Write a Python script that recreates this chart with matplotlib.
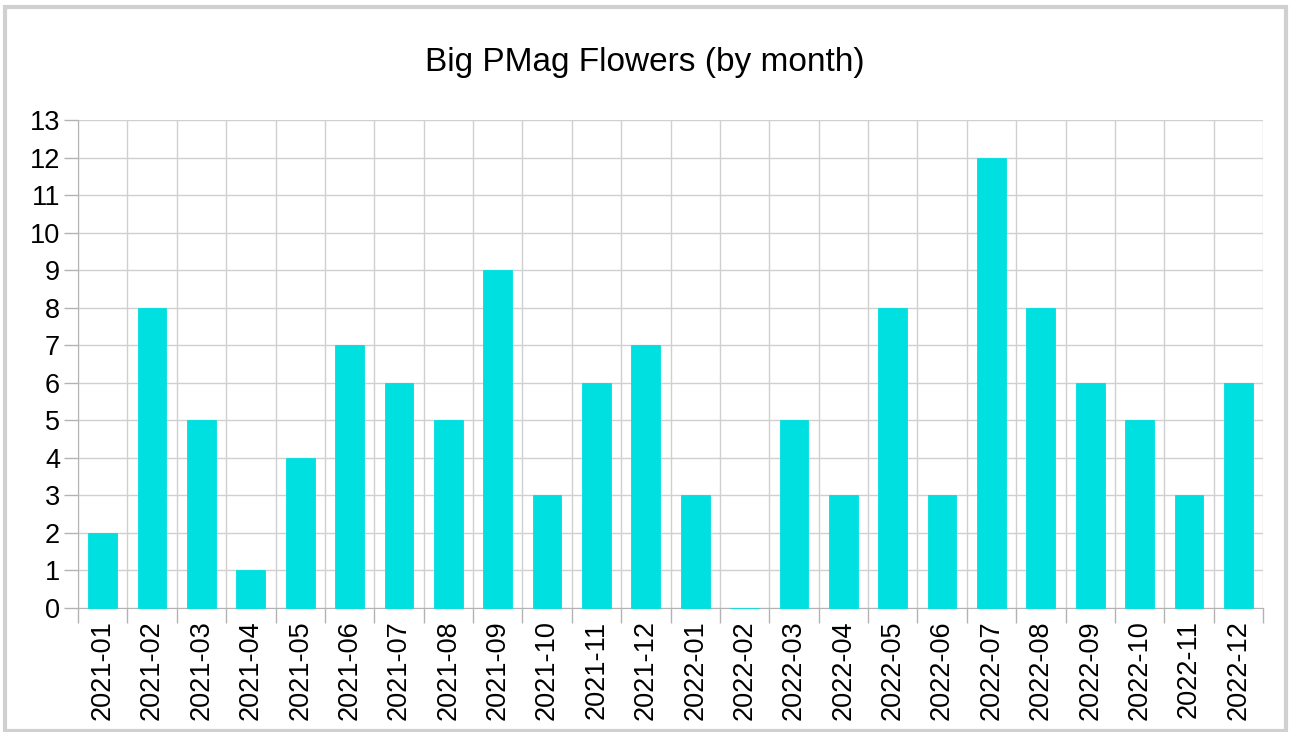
import matplotlib
matplotlib.use('Agg')
from matplotlib import pyplot as plt
from matplotlib.patches import Rectangle
import numpy as np

plt.rcParams['font.family'] = ['Liberation Sans', 'DejaVu Sans']

months = ['2021-01', '2021-02', '2021-03', '2021-04', '2021-05', '2021-06',
          '2021-07', '2021-08', '2021-09', '2021-10', '2021-11', '2021-12',
          '2022-01', '2022-02', '2022-03', '2022-04', '2022-05', '2022-06',
          '2022-07', '2022-08', '2022-09', '2022-10', '2022-11', '2022-12']
flowers = [2, 8, 5, 1, 4, 7, 6, 5, 9, 3, 6, 7,
           3, 0, 5, 3, 8, 3, 12, 8, 6, 5, 3, 6]

grid_col = '#b3b3b3'

fig = plt.figure(figsize=(12.9, 7.32), dpi=100)
fig.patch.set_facecolor('white')
# light frame round the whole chart
fig.patches.append(Rectangle((5 / 1290, 1 / 732), 1281 / 1290, 724 / 732,
                             transform=fig.transFigure, fill=False,
                             edgecolor='#d0d0d0', linewidth=3))

ax = fig.add_axes([78 / 1290, 1 - 608 / 732, 1185 / 1290, 488 / 732])

x = np.arange(len(months))
ax.bar(x, flowers, width=0.58, color='#00e0e0', edgecolor='#00e0e0',
       linewidth=0.6, zorder=3, clip_on=False)

ax.set_xlim(-0.5, len(months) - 0.5)
ax.set_ylim(0, 13)
ax.set_yticks(range(0, 14))

# vertical grid sits on category borders, labels sit on bar centres
ax.set_xticks(np.arange(-0.5, len(months), 1.0))
ax.set_xticks(x, minor=True)
ax.set_xticklabels([])
ax.set_xticklabels(months, minor=True, rotation=90, fontsize=19.5)
ax.tick_params(axis='x', which='major', length=11, width=1, color=grid_col)
ax.tick_params(axis='x', which='minor', length=0, pad=9)
ax.tick_params(axis='y', length=10, width=1, color=grid_col, labelsize=19.5, pad=3)

ax.grid(True, which='major', color='#d0d0d0', linewidth=1, zorder=0)
for s in ax.spines.values():
    s.set_color(grid_col)
ax.spines['top'].set_visible(False)
ax.spines['right'].set_visible(False)

fig.text(0.5, 1 - 62 / 732, 'Big PMag Flowers (by month)', ha='center',
         va='center', fontsize=24)

fig.savefig('out.png', dpi=100)
